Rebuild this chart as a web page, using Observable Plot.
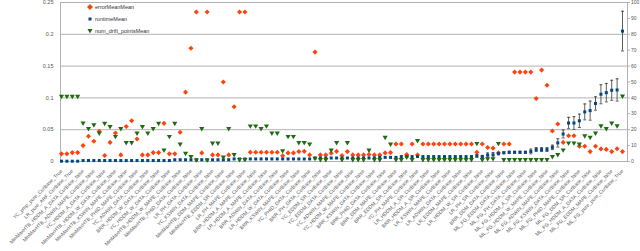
<!DOCTYPE html>
<html><head><meta charset="utf-8">
<script src="https://cdn.jsdelivr.net/npm/d3@7"></script>
<script src="https://cdn.jsdelivr.net/npm/@observablehq/plot@0.6"></script>
<style>
body{margin:0;background:#fff;}
#chart{position:relative;width:640px;height:251px;overflow:hidden;}
#legend{position:absolute;left:86px;top:1px;font:5.5px "Liberation Sans",sans-serif;color:#333;}
#legend div{display:flex;align-items:center;height:12px;line-height:12px;}
#legend svg{width:8px;height:8px;margin-right:1px;}
</style></head><body><div id="chart"><div id="legend"></div></div>
<script>
const seriesNames = ["errorMeanMean", "runtimeMean", "num_drift_pointsMean"];
const seriesColors = ["#ff420e", "#004586", "#1f6b12"];

const errorMeanMean = [
0.012,0.012,0.014,0.014,0.025,0.0396,0.0318,0.0474,0.0094,0.030,
0.0448,0.0104,0.055,0.064,0.0354,0.0104,0.0104,0.014,0.014,0.060,
0.012,0.012,0.046,0.109,0.178,0.235,0.0135,0.235,0.0104,0.0104,
0.125,0.0104,0.086,0.235,0.235,0.0146,0.0146,0.0146,0.0146,0.0146,
0.0146,0.009,0.0135,0.0135,0.0156,0.016,0.0104,0.172,0.0104,0.0104,
0.013,0.016,0.0095,0.0156,0.0104,0.0104,0.0104,0.011,0.0104,0.0104,
0.0135,0.014,0.0276,0.0276,0.011,0.0276,0.0104,0.0276,0.0276,0.0276,
0.0276,0.0276,0.0276,0.0276,0.0276,0.0276,0.0276,0.0146,0.0276,0.022,
0.021,0.0135,0.0276,0.0276,0.1406,0.1406,0.1406,0.1406,0.099,0.1437,
0.12,0.048,0.059,0.030,0.0406,0.0406,0.024,0.024,0.0156,0.024,
0.0198,0.019,0.0156,0.02,0.0156];

const runtimeMean = [
0.2,0.2,0.2,0.2,0.6,0.6,0.6,0.6,0.6,0.6,
0.6,0.6,0.6,0.6,0.6,0.6,0.6,0.6,0.6,0.6,
0.6,1.1,1.1,1.1,1.1,1.1,1.1,1.1,1.1,1.1,
1.1,1.1,1.6,1.6,1.6,1.6,1.6,1.6,1.6,1.6,
1.6,1.6,1.6,1.6,1.6,1.6,1.6,2.2,2.2,2.2,
2.2,2.2,2.2,2.2,2.2,2.2,2.2,2.2,2.2,2.6,
2.6,2.6,2.6,3.1,3.1,3.1,3.1,3.1,3.1,3.1,
3.1,3.1,3.1,3.1,3.1,3.1,3.1,3.5,3.2,4.0,
4.2,5.0,5.5,5.8,5.8,5.8,5.8,6.3,7.5,7.5,
7.5,8.9,11.7,17.3,24.2,24.2,25.6,31.2,32,36.5,
42.3,43.3,44.8,45,82];

const runtimeErr = [
0,0,0,0,0,0,0,0,0,0,
0,0,0,0,0,0,0,0,0,0,
0,0,0,0,0,0,0,0,0,0,
0,0,0,0,0,0,0,0,0,0,
0,0,0,0,0,0,0,0,0,0,
0,0,0,0,0,0,0,0,0,0,
0,0,0,0,0,0,0,0,0,0,
0,0,0,0,0,0,0,0.8,0.5,1.4,
1.4,0.8,0.6,0.6,0.6,0.6,0.6,1.5,1.2,1.2,
1.2,1.4,2.6,2.5,3.6,4,4.2,5,6,4.2,
6,5.8,6.3,7,12.5];

const numDriftPointsMean = [
41,41,41,41,24.2,20.8,23.1,17.9,24,22,
15.8,20.8,12,12,17.9,22,17.9,20.8,24,7.2,
15.8,24,11,5.2,3.1,1,20.8,1,11.6,11.6,
2.8,20.8,4.4,1.2,1.2,22.4,22.4,20.8,22.4,17.9,
17.9,6.8,15.8,15.8,12,12,11,2,1.2,1.2,
7.2,12,1.2,12,1.2,1.2,1.2,7.2,1.2,1.2,
15.2,11,1.2,1.2,2.8,1.2,13.2,1.2,1.2,1.2,
1.2,1.2,1.2,1.2,1.2,1.2,1.2,11.4,1.2,1.8,
1.8,11.4,1.2,1.2,1.2,1.2,1.2,1.2,1.2,1.2,
1.2,3.1,4.4,7.3,11.7,11.7,11,16.2,15.2,17.9,
22.5,20.8,24.2,22.5,41.2];

// one label for every second configuration
const tickLabels = [
"YC_pmp_pure_CurBase_True","LR_pure_ARF_CurBase_True","MinMaxHTB_HDDM_A_DATA_CurBase_false","MinMaxHTB_ADWIN_MAPE_CurBase_false",
"YC_HDDM_A_DATA_CurBase_false","MinMaxHTB_HDDM_W_DATA_CurBase_false","MinMaxHTB_KSWIN_MAPE_CurBase_false","MinMaxHTB_PHID_MAPE_CurBase_false",
"YC_ADWIN_DATA_CurBase_false","BRR_HDDM_W_DATA_CurBase_false","YC_HDDM_W_DATA_CurBase_false","MinMaxHTB_HDDM_W_MAPE_CurBase_false",
"MinMaxHTB_PHID_DATA_CurBase_false","LR_PH_DATA_CurBase_false","YC_KSWIN_DATA_CurBase_false","MinMaxHTB_DDM_MAPE_CurBase_false",
"MinMaxHTB_EDDM_SR_CurBase_false","LR_PH_MAPE_CurBase_false","BRR_HDDM_A_MAPE_CurBase_false","LR_HDDM_A_MAPE_CurBase_false",
"BRR_ADWIN_DATA_CurBase_false","LR_HDDM_W_DATA_CurBase_false","BRR_KSWIN_MAPE_CurBase_false","YC_PHID_DATA_CurBase_false",
"BRR_PH_DATA_CurBase_false","YC_EDDM_SR_CurBase_false","YC_EDDM_DATA_CurBase_false","YC_ADWIN_MAPE_CurBase_false",
"YC_HDDM_W_MAPE_CurBase_false","BRR_KSWIN_DATA_CurBase_false","BRR_PHID_DATA_CurBase_false","BRR_DDM_MAPE_CurBase_false",
"BRR_EDDM_SR_CurBase_false","YC_PH_MAPE_CurBase_false","LR_HDDM_A_SR_CurBase_false","BRR_HDDM_A_SR_CurBase_false",
"LR_KSWIN_MAPE_CurBase_false","LR_ADWIN_DATA_CurBase_false","LR_EDDM_MAPE_CurBase_false","LR_HDDM_W_SR_CurBase_false",
"LR_PH_SR_CurBase_false","BRR_DDM_DATA_CurBase_false","ML_FG_EDDM_DATA_CurBase_false","ML_FG_PH_DATA_CurBase_false",
"ML_FG_HDDM_A_SR_CurBase_false","ML_FG_HDDM_W_MAPE_CurBase_false","ML_FG_ADWIN_MAPE_CurBase_false","ML_FG_KSWIN_DATA_CurBase_false",
"ML_FG_PHID_MAPE_CurBase_false","ML_FG_DDM_SR_CurBase_false","ML_FG_HDDM_A_DATA_CurBase_false","ML_FG_EDDM_MAPE_CurBase_false",
"ML_FG_pure_pure_CurBase_True"];

const leftTicks = [0, 0.05, 0.1, 0.15, 0.2, 0.25];
const rightTicks = [0,10,20,30,40,50,60,70,80,90,100];
const rightMax = 100, leftMax = 0.25;
const k = leftMax / rightMax; // right axis units -> left axis units

const rows = errorMeanMean.map((e, i) => ({
  i, err: e, rt: runtimeMean[i], sd: runtimeErr[i], nd: numDriftPointsMean[i]
}));
const errRows = rows.filter(d => d.sd > 0);
const labelIdx = tickLabels.map((_, j) => j * 2);

const cap = {draw(ctx, size) { const w = Math.sqrt(size / Math.PI); ctx.moveTo(-w, 0); ctx.lineTo(w, 0); }};
const font = "Liberation Sans, Arial, sans-serif";

const plot = Plot.plot({
  width: 640, height: 251,
  marginLeft: 60, marginRight: 13, marginTop: 2, marginBottom: 90,
  style: {fontFamily: font, background: "#fff"},
  x: {type: "point", domain: rows.map(d => d.i), insetLeft: 1, insetRight: 5, padding: 0, label: null},
  y: {domain: [0, leftMax], label: null},
  marks: [
    Plot.gridY(leftTicks, {stroke: "#b3b3b3", strokeOpacity: 1}),
    Plot.frame({stroke: "#b3b3b3"}),
    Plot.axisY(leftTicks, {anchor: "left", label: null, tickSize: 0, tickPadding: 7, fontSize: 5.5, fill: "#555",
      tickFormat: d => String(+d.toFixed(2))}),
    Plot.axisY(rightTicks.map(v => v * k), {anchor: "right", label: null, tickSize: 2, tickPadding: 1.5, fontSize: 5, fill: "#555", stroke: "#b3b3b3",
      tickFormat: d => String(Math.round(d / k))}),
    Plot.axisX(labelIdx, {anchor: "bottom", label: null, tickSize: 0, tickPadding: 9, tickRotate: -45, fontSize: 5, fill: "#555",
      tickFormat: i => tickLabels[i / 2]}),
    Plot.ruleX(errRows, {x: "i", y1: d => (d.rt - d.sd) * k, y2: d => (d.rt + d.sd) * k, stroke: "#333", strokeWidth: 0.8}),
    Plot.dot(errRows, {x: "i", y: d => (d.rt - d.sd) * k, symbol: cap, r: 1.5, stroke: "#333", strokeWidth: 0.8}),
    Plot.dot(errRows, {x: "i", y: d => (d.rt + d.sd) * k, symbol: cap, r: 1.5, stroke: "#333", strokeWidth: 0.8}),
    Plot.dot(rows, {x: "i", y: "err", symbol: "diamond2", r: 2.3, fill: seriesColors[0], stroke: "none"}),
    Plot.dot(rows, {x: "i", y: d => d.rt * k, symbol: "square", r: 1.7, fill: seriesColors[1], stroke: "none"}),
    Plot.dot(rows, {x: "i", y: d => d.nd * k, symbol: "triangle", rotate: 180, r: 1.9, fill: seriesColors[2], stroke: "none"})
  ]
});
document.getElementById("chart").prepend(plot);

// legend inside the plot area
const shapes = [
  '<path d="M4,1 L7,4 L4,7 L1,4 Z" fill="' + seriesColors[0] + '"/>',
  '<rect x="2.5" y="2.5" width="3" height="3" fill="' + seriesColors[1] + '"/>',
  '<path d="M1.5,2 L6.5,2 L4,6.5 Z" fill="' + seriesColors[2] + '"/>'
];
const lg = document.getElementById("legend");
seriesNames.forEach((n, j) => {
  const div = document.createElement("div");
  div.innerHTML = '<svg viewBox="0 0 8 8">' + shapes[j] + '</svg><span>' + n + '</span>';
  lg.appendChild(div);
});
</script>
</body></html>
